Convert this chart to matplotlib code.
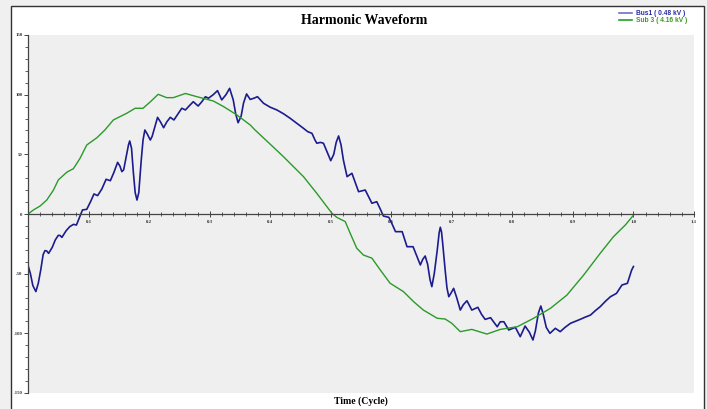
import matplotlib
matplotlib.use('Agg')
import matplotlib.pyplot as plt
from matplotlib.patches import Rectangle
from matplotlib.lines import Line2D
from matplotlib.ticker import MultipleLocator

# Bus1 (0.48 kV) waveform
bus1_t = [0.000, 0.004, 0.008, 0.013, 0.017, 0.021, 0.025, 0.028, 0.031, 0.034,
          0.040, 0.045, 0.050, 0.053, 0.056, 0.063, 0.069, 0.075, 0.080, 0.085,
          0.090, 0.097, 0.103, 0.109, 0.115, 0.122, 0.129, 0.136, 0.142, 0.148,
          0.152, 0.155, 0.158, 0.163, 0.166, 0.168, 0.171, 0.174, 0.177, 0.180,
          0.183, 0.187, 0.190, 0.193, 0.197, 0.202, 0.205, 0.208, 0.214, 0.219,
          0.224, 0.229, 0.235, 0.241, 0.248, 0.254, 0.260, 0.267, 0.273, 0.281,
          0.287, 0.293, 0.298, 0.306, 0.313, 0.320, 0.327, 0.333, 0.339, 0.343,
          0.347, 0.352, 0.356, 0.361, 0.367, 0.373, 0.379, 0.389, 0.400, 0.411,
          0.422, 0.433, 0.444, 0.455, 0.462, 0.469, 0.474, 0.477, 0.483, 0.488,
          0.494, 0.500, 0.505, 0.509, 0.513, 0.517, 0.521, 0.527, 0.535, 0.540,
          0.546, 0.557, 0.563, 0.568, 0.576, 0.582, 0.587, 0.596, 0.601, 0.607,
          0.618, 0.622, 0.626, 0.636, 0.642, 0.648, 0.652, 0.656, 0.660, 0.664,
          0.667, 0.671, 0.676, 0.679, 0.681, 0.683, 0.685, 0.689, 0.692, 0.695,
          0.699, 0.703, 0.708, 0.714, 0.719, 0.725, 0.733, 0.743, 0.749, 0.755,
          0.764, 0.770, 0.775, 0.780, 0.786, 0.794, 0.805, 0.813, 0.821, 0.828,
          0.834, 0.838, 0.843, 0.847, 0.851, 0.856, 0.862, 0.871, 0.879, 0.887,
          0.896, 0.904, 0.912, 0.920, 0.929, 0.937, 0.945, 0.954, 0.962, 0.972,
          0.981, 0.990, 0.997, 1.000]
bus1_v = [-43, -50, -60, -65, -58, -47, -34, -30.7, -31, -33,
          -28, -21.8, -17.9, -18, -19.6, -14, -10.6, -8.7, -9.2, -3,
          3.4, 3.9, 10, 16.8, 15.4, 21, 29.1, 27.9, 35, 43.3,
          40, 35.5, 37, 50, 58, 61.2, 55, 35, 18, 11.7,
          18, 45, 62, 70.4, 67, 62, 65, 70.4, 81, 77,
          72.3, 77, 81, 78.8, 84, 88.6, 87.2, 91, 94.1, 90.5,
          94, 98.3, 97, 100, 103.4, 95.6, 100, 105.3, 95.6, 84,
          76.5, 82, 93, 100.6, 96, 97, 98.3, 92.8, 89.5, 87.2,
          84, 80.2, 76, 71.8, 69, 67.6, 62, 59.3, 60, 59.3,
          52, 44.7, 50, 60, 65.4, 58, 45, 31.3, 34.1, 27,
          18.7, 20.1, 14, 9, 10.3, 4, -1.7, -2.8, -8, -14.8,
          -14.8, -21, -27.4, -27.4, -35, -42.7, -38, -35.2, -42, -55,
          -60.9, -50, -30, -16, -11.1, -15, -25, -47, -62, -69.3,
          -66, -62.3, -70, -80.5, -76, -72.7, -80.5, -78.2, -84, -88.3,
          -86.9, -91, -94.5, -90.3, -90.3, -97.2, -95, -102.8, -93.9, -99,
          -105.6, -98, -83, -77.1, -84, -95, -100, -95.8, -98.6, -95,
          -91.6, -90, -88.3, -86.5, -84.7, -81, -77.7, -73, -69.3, -66.5,
          -59.5, -58.1, -47, -44]

# Sub 3 (4.16 kV) waveform
sub3_t = [0.000, 0.009, 0.020, 0.031, 0.042, 0.050, 0.064, 0.075, 0.086, 0.097,
          0.114, 0.127, 0.141, 0.163, 0.177, 0.190, 0.202, 0.215, 0.229, 0.240,
          0.260, 0.279, 0.306, 0.323, 0.345, 0.367, 0.375, 0.399, 0.422, 0.455,
          0.477, 0.502, 0.510, 0.524, 0.532, 0.543, 0.554, 0.568, 0.582, 0.598,
          0.620, 0.637, 0.653, 0.676, 0.689, 0.700, 0.714, 0.733, 0.758, 0.780,
          0.808, 0.835, 0.863, 0.890, 0.918, 0.945, 0.967, 0.987, 1.000]
sub3_v = [0, 3.4, 6.7, 11.7, 20, 28.5, 35, 38, 46.7, 57.8,
          64, 70.4, 78.8, 84.4, 88.6, 88.6, 94, 100.3, 97.5, 97.5,
          101, 98.3, 94.7, 90, 83, 74.6, 70.4, 59, 48, 31.3,
          17.3, 0.6, -2.8, -6.4, -16, -28.7, -34.4, -37, -47, -58,
          -65, -73.5, -80.5, -87.4, -88, -91.6, -98.6, -96.7, -100.6, -96.7,
          -94.5, -87.4, -79, -68, -51, -33, -19, -9, -1]

x_ticks = [0.1, 0.2, 0.3, 0.4, 0.5, 0.6, 0.7, 0.8, 0.9, 1.0, 1.1]
x_tick_labels = ['0.1', '0.2', '0.3', '0.4', '0.5', '0.6', '0.7', '0.8', '0.9', '1.0', '1.1']
y_ticks = [-150, -100, -50, 0, 50, 100, 150]

W, H = 707, 409
fig = plt.figure(figsize=(W / 100, H / 100), dpi=100, facecolor='#f0f0f0')

# white panel with a thin dark frame
fig.patches.append(Rectangle((11 / W, -0.05), (704 - 11) / W, 1 - 6 / H + 0.05,
                             transform=fig.transFigure, facecolor='white',
                             edgecolor='#333333', linewidth=1.0, zorder=-5))

ax = fig.add_axes([28 / W, 1 - 393 / H, (694 - 28) / W, (393 - 35) / H])
ax.set_zorder(2)
ax.set_facecolor('#efefef')

ax.plot(bus1_t, bus1_v, color='#1c1c8e', lw=1.2)
ax.plot(sub3_t, sub3_v, color='#2a9a2a', lw=1.0)

ax.set_xlim(0, 1.1)
ax.set_ylim(-150, 150)

for s in ['top', 'right']:
    ax.spines[s].set_visible(False)
ax.spines['bottom'].set_position(('data', 0))
ax.spines['left'].set_position(('data', 0))
ax.spines['bottom'].set_color('#444444')
ax.spines['left'].set_color('#444444')
ax.spines['bottom'].set_linewidth(0.9)
ax.spines['left'].set_linewidth(0.9)

ax.set_xticks(x_ticks)
ax.set_xticklabels(x_tick_labels)
ax.set_yticks(y_ticks)
ax.set_yticklabels([str(v) for v in y_ticks])
ax.xaxis.set_minor_locator(MultipleLocator(0.02))
ax.yaxis.set_minor_locator(MultipleLocator(10))
ax.tick_params(axis='x', which='major', direction='inout', length=5, width=0.7,
               color='#444444', labelsize=3.5, pad=1.5)
ax.tick_params(axis='x', which='minor', direction='inout', length=3, width=0.6,
               color='#444444')
ax.tick_params(axis='y', which='major', direction='out', length=3, width=0.7,
               color='#444444', labelsize=3.5, pad=1)
ax.tick_params(axis='y', which='minor', direction='out', length=2, width=0.6,
               color='#444444')
for lbl in ax.get_xticklabels() + ax.get_yticklabels():
    lbl.set_family('Liberation Serif')
    lbl.set_fontweight('bold')
    lbl.set_color('#333333')

fig.text(364 / W, 1 - 20 / H, 'Harmonic Waveform', ha='center', va='center',
         family='Liberation Serif', fontweight='bold', fontsize=10)
fig.text(361 / W, 1 - 401 / H, 'Time (Cycle)', ha='center', va='center',
         family='Liberation Serif', fontweight='bold', fontsize=7)

handles = [Line2D([], [], color='#7070c4', lw=1.2),
           Line2D([], [], color='#22a022', lw=1.2)]
leg = fig.legend(handles, ['Bus1 ( 0.48 kV )', 'Sub 3 ( 4.16 kV )'],
                 loc='upper left', bbox_to_anchor=(619 / W, 1 - 10 / H),
                 frameon=False, fontsize=4.8, handlelength=2.0, handletextpad=0.6,
                 labelspacing=0.05, borderpad=0, borderaxespad=0)
for txt, c in zip(leg.get_texts(), ['#2a2aa8', '#3a9a1a']):
    txt.set_color(c)
    txt.set_fontweight('bold')
    txt.set_family(['Liberation Sans Narrow', 'Liberation Sans'])

fig.savefig('out.png', dpi=100, facecolor=fig.get_facecolor())
